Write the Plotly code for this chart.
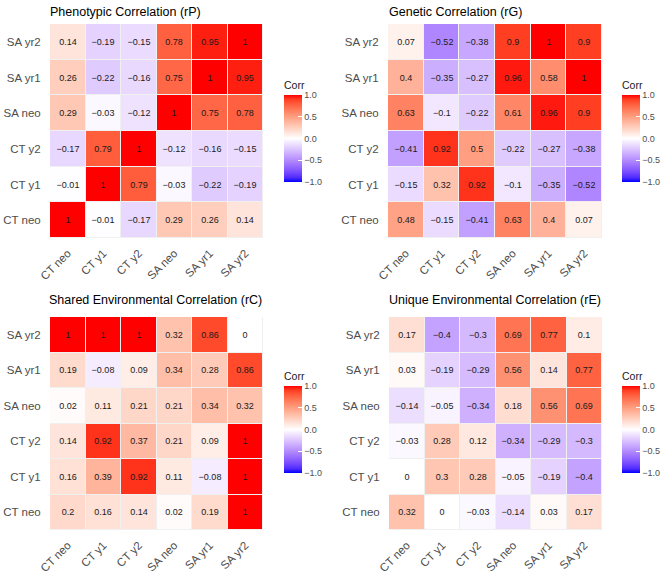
import plotly.graph_objects as go

labels = ["CT neo", "CT y1", "CT y2", "SA neo", "SA yr1", "SA yr2"]

# rows listed bottom-to-top (row i corresponds to labels[i] on the y axis)
rP = [
    [1, -0.01, -0.17, 0.29, 0.26, 0.14],
    [-0.01, 1, 0.79, -0.03, -0.22, -0.19],
    [-0.17, 0.79, 1, -0.12, -0.16, -0.15],
    [0.29, -0.03, -0.12, 1, 0.75, 0.78],
    [0.26, -0.22, -0.16, 0.75, 1, 0.95],
    [0.14, -0.19, -0.15, 0.78, 0.95, 1],
]
rG = [
    [0.48, -0.15, -0.41, 0.63, 0.4, 0.07],
    [-0.15, 0.32, 0.92, -0.1, -0.35, -0.52],
    [-0.41, 0.92, 0.5, -0.22, -0.27, -0.38],
    [0.63, -0.1, -0.22, 0.61, 0.96, 0.9],
    [0.4, -0.35, -0.27, 0.96, 0.58, 1],
    [0.07, -0.52, -0.38, 0.9, 1, 0.9],
]
rC = [
    [0.2, 0.16, 0.14, 0.02, 0.19, 1],
    [0.16, 0.39, 0.92, 0.11, -0.08, 1],
    [0.14, 0.92, 0.37, 0.21, 0.09, 1],
    [0.02, 0.11, 0.21, 0.21, 0.34, 0.32],
    [0.19, -0.08, 0.09, 0.34, 0.28, 0.86],
    [1, 1, 1, 0.32, 0.86, 0],
]
rE = [
    [0.32, 0, -0.03, -0.14, 0.03, 0.17],
    [0, 0.3, 0.28, -0.05, -0.19, -0.4],
    [-0.03, 0.28, 0.12, -0.34, -0.29, -0.3],
    [-0.14, -0.05, -0.34, 0.18, 0.56, 0.69],
    [0.03, -0.19, -0.29, 0.56, 0.14, 0.77],
    [0.17, -0.4, -0.3, 0.69, 0.77, 0.1],
]
titles = [
    "Phenotypic Correlation (rP)",
    "Genetic Correlation (rG)",
    "Shared Environmental Correlation (rC)",
    "Unique Environmental Correlation (rE)",
]
colorbar_ticks = [-1.0, -0.5, 0.0, 0.5, 1.0]
colorbar_ticktext = ["\u22121.0", "\u22120.5", "0.0", "0.5", "1.0"]

W, H = 666, 575
FONT = "Liberation Sans, Arial, sans-serif"


# ---- Lab interpolation like ggplot's gradient2 (blue - white - red) ----
def srgb_to_lab(rgb):
    def lin(c):
        c = c / 255.0
        return c / 12.92 if c <= 0.04045 else ((c + 0.055) / 1.055) ** 2.4
    r, g, b = (lin(c) for c in rgb)
    X = 0.4124 * r + 0.3576 * g + 0.1805 * b
    Y = 0.2126 * r + 0.7152 * g + 0.0722 * b
    Z = 0.0193 * r + 0.1192 * g + 0.9505 * b
    Xn, Yn, Zn = 0.95047, 1.0, 1.08883
    def f(t):
        return t ** (1 / 3) if t > 0.008856 else 7.787 * t + 16 / 116
    fx, fy, fz = f(X / Xn), f(Y / Yn), f(Z / Zn)
    return (116 * fy - 16, 500 * (fx - fy), 200 * (fy - fz))


def lab_to_srgb(lab):
    L, a, b = lab
    fy = (L + 16) / 116
    fx = fy + a / 500
    fz = fy - b / 200
    def finv(t):
        return t ** 3 if t ** 3 > 0.008856 else (t - 16 / 116) / 7.787
    Xn, Yn, Zn = 0.95047, 1.0, 1.08883
    X, Y, Z = Xn * finv(fx), Yn * finv(fy), Zn * finv(fz)
    r = 3.2406 * X - 1.5372 * Y - 0.4986 * Z
    g = -0.9689 * X + 1.8758 * Y + 0.0415 * Z
    bb = 0.0557 * X - 0.2040 * Y + 1.0570 * Z
    def gam(c):
        c = max(0.0, min(1.0, c))
        return 12.92 * c if c <= 0.0031308 else 1.055 * c ** (1 / 2.4) - 0.055
    return tuple(int(round(255 * gam(c))) for c in (r, g, bb))


blue = srgb_to_lab((0, 0, 255))
white = srgb_to_lab((255, 255, 255))
red = srgb_to_lab((255, 0, 0))
colorscale = []
N = 20
for i in range(N + 1):
    t = i / N
    if t <= 0.5:
        u = t / 0.5
        lab = tuple(blue[k] + (white[k] - blue[k]) * u for k in range(3))
    else:
        u = (t - 0.5) / 0.5
        lab = tuple(white[k] + (red[k] - white[k]) * u for k in range(3))
    r, g, b = lab_to_srgb(lab)
    colorscale.append([t, f"rgb({r},{g},{b})"])


def fmt(v):
    return f"{v:g}".replace("-", "\u2212")


# panel geometry in pixels
panels = [
    dict(z=rP, px=(50, 263), py=(24, 238), cbx=284, cbb=182, tx=48, ty=12),
    dict(z=rG, px=(388, 602), py=(24, 238), cbx=622, cbb=182, tx=387, ty=12),
    dict(z=rC, px=(50, 263), py=(317, 530), cbx=284, cbb=473, tx=47, ty=300),
    dict(z=rE, px=(389, 602), py=(317, 530), cbx=622, cbb=473, tx=387, ty=300),
]

fig = go.Figure()
layout_axes = {}
annotations = []
for i, p in enumerate(panels):
    n = i + 1
    xa = "x" if n == 1 else f"x{n}"
    ya = "y" if n == 1 else f"y{n}"
    text = [[fmt(v) for v in row] for row in p["z"]]
    fig.add_trace(go.Heatmap(
        z=p["z"], x=labels, y=labels, text=text,
        texttemplate="%{text}", textfont=dict(size=9, color="#1a1a1a", family=FONT),
        colorscale=colorscale, zmin=-1, zmax=1, xgap=1, ygap=1,
        xaxis=xa, yaxis=ya, hoverinfo="skip",
        colorbar=dict(
            title=dict(text="Corr", side="top", font=dict(size=10.5, color="#1a1a1a", family=FONT)),
            x=p["cbx"] / W, xanchor="left", y=1 - p["cbb"] / H, yanchor="bottom",
            lenmode="pixels", len=104, thicknessmode="pixels", thickness=18,
            outlinewidth=0, tickvals=colorbar_ticks, ticktext=colorbar_ticktext,
            ticks="inside", ticklen=4, tickcolor="white",
            tickfont=dict(size=9, color="#4d4d4d", family=FONT),
            xpad=0, ypad=0,
        ),
    ))
    layout_axes[("xaxis" if n == 1 else f"xaxis{n}")] = dict(
        domain=[p["px"][0] / W, p["px"][1] / W], anchor=ya, automargin=False,
        tickangle=-45, tickfont=dict(size=11.5, color="#4d4d4d", family=FONT),
        ticks="outside", ticklen=3, tickcolor="rgba(0,0,0,0)",
        showgrid=False, zeroline=False, showline=False, fixedrange=True,
    )
    layout_axes[("yaxis" if n == 1 else f"yaxis{n}")] = dict(
        domain=[1 - p["py"][1] / H, 1 - p["py"][0] / H], anchor=xa, automargin=False,
        tickfont=dict(size=11.5, color="#4d4d4d", family=FONT),
        ticks="outside", ticklen=6, tickcolor="rgba(0,0,0,0)",
        showgrid=False, zeroline=False, showline=False, fixedrange=True,
    )
    annotations.append(dict(
        text=titles[i], x=p["tx"] / W, y=1 - p["ty"] / H, xref="paper", yref="paper",
        xanchor="left", yanchor="middle", showarrow=False,
        font=dict(size=12.5, color="#000000", family=FONT),
    ))

fig.update_layout(
    width=W, height=H, margin=dict(l=0, r=0, t=0, b=0, autoexpand=False),
    paper_bgcolor="white", plot_bgcolor="#f0f0f0",
    annotations=annotations, showlegend=False,
    **layout_axes,
)

fig.write_html(
    "out.html",
    config={"displayModeBar": False},
    post_script="document.body.style.margin='0';document.body.style.overflow='hidden';",
)
